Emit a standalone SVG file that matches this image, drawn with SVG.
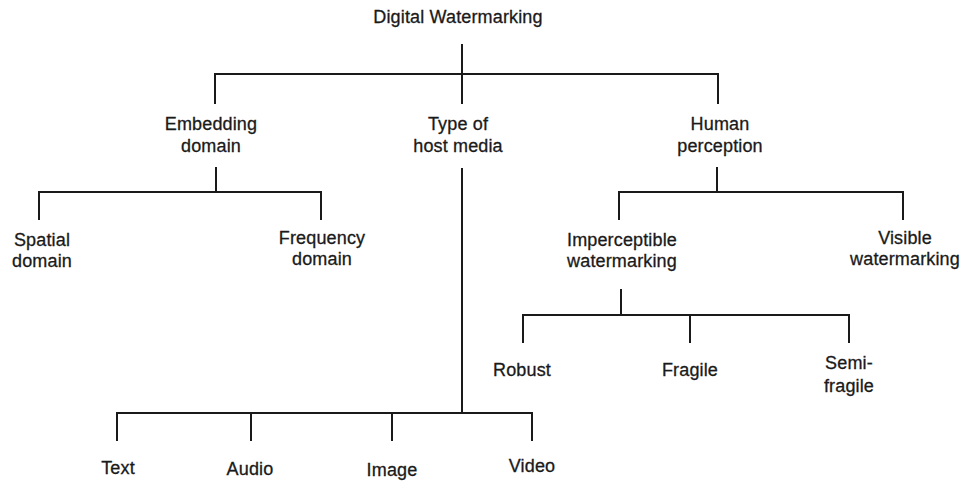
<svg xmlns="http://www.w3.org/2000/svg" width="963" height="481" viewBox="0 0 963 481">
  <style>
    .lbl { font-family: "Liberation Sans", Arial, sans-serif; font-size: 18px; letter-spacing: 0.15px; fill: #1a1a1a; stroke: #1a1a1a; stroke-width: 0.3px; text-anchor: middle; }
    .edge { stroke: #1a1a1a; stroke-width: 2; fill: none; }
  </style>
  <rect width="963" height="481" fill="#ffffff"/>

  <g id="connectors">
    <!-- root -> level 1 -->
    <path class="edge" d="M462 44V104M215 104V74H718V104"/>
    <!-- embedding domain -> spatial / frequency -->
    <path class="edge" d="M216 167V192M39 220V192H321V220"/>
    <!-- type of host media -> media types -->
    <path class="edge" d="M462 168V413M117 441V413H532V441M251 413V441M392 413V441"/>
    <!-- human perception -> imperceptible / visible -->
    <path class="edge" d="M717 167V192M619 220V192H903V220"/>
    <!-- imperceptible -> robust / fragile / semi-fragile -->
    <path class="edge" d="M621 289V315M523 343V315H849V343M690 315V343"/>
  </g>

  <g id="root"><text class="lbl" x="458" y="23">Digital Watermarking</text></g>

  <g id="embedding"><text class="lbl" x="211" y="129.5">Embedding</text><text class="lbl" x="211" y="151.5">domain</text></g>
  <g id="host-media"><text class="lbl" x="458" y="129.5">Type of</text><text class="lbl" x="458" y="151.5">host media</text></g>
  <g id="human"><text class="lbl" x="720" y="129.5">Human</text><text class="lbl" x="720" y="151.5">perception</text></g>

  <g id="spatial"><text class="lbl" x="42" y="246">Spatial</text><text class="lbl" x="42" y="267">domain</text></g>
  <g id="frequency"><text class="lbl" x="322" y="244">Frequency</text><text class="lbl" x="322" y="265">domain</text></g>

  <g id="imperceptible"><text class="lbl" x="622" y="246">Imperceptible</text><text class="lbl" x="622" y="267">watermarking</text></g>
  <g id="visible"><text class="lbl" x="905" y="244">Visible</text><text class="lbl" x="905" y="265">watermarking</text></g>

  <g id="robust"><text class="lbl" x="522" y="376">Robust</text></g>
  <g id="fragile"><text class="lbl" x="690" y="376">Fragile</text></g>
  <g id="semi-fragile"><text class="lbl" x="849" y="369">Semi-</text><text class="lbl" x="849" y="392">fragile</text></g>

  <g id="text"><text class="lbl" x="118" y="474">Text</text></g>
  <g id="audio"><text class="lbl" x="250" y="475">Audio</text></g>
  <g id="image"><text class="lbl" x="392" y="476">Image</text></g>
  <g id="video"><text class="lbl" x="532" y="472">Video</text></g>
</svg>
